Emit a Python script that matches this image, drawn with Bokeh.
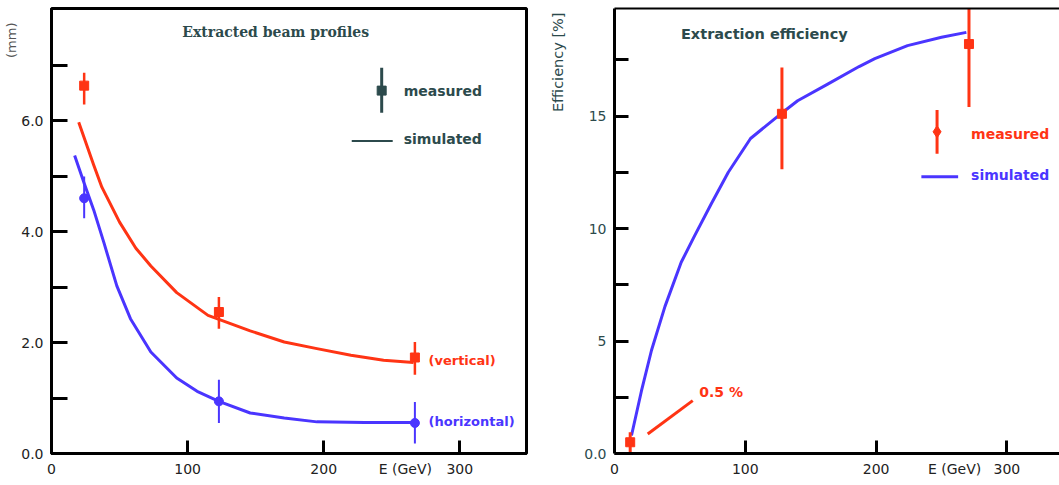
from bokeh.plotting import figure
from bokeh.layouts import row
from bokeh.models import Range1d, FixedTicker, Label, LinearAxis, PrintfTickFormatter, Title
from bokeh.embed import file_html
from bokeh.resources import INLINE

# ---------------- data: left panel (beam profiles, mm) ----------------
prof_E_meas = [24, 123, 267]
vert_meas = [6.63, 2.55, 1.73]
vert_lo = [6.29, 2.25, 1.42]
vert_hi = [6.86, 2.82, 2.01]
horiz_meas = [4.60, 0.94, 0.55]
horiz_lo = [4.24, 0.55, 0.18]
horiz_hi = [4.99, 1.33, 0.93]

vert_sim_E = [20, 31, 37, 50, 62, 73, 92, 115, 146, 171, 195, 220, 244, 266]
vert_sim = [5.97, 5.20, 4.80, 4.17, 3.70, 3.38, 2.90, 2.49, 2.21, 2.01, 1.89, 1.77, 1.68, 1.64]

horiz_sim_E = [17, 24, 31, 38.5, 48, 58, 73, 92, 107, 123, 146, 171, 195, 230, 266]
horiz_sim = [5.37, 4.87, 4.39, 3.80, 3.02, 2.43, 1.83, 1.36, 1.12, 0.94, 0.73, 0.64, 0.57, 0.56, 0.56]

prof_yticks = [0, 2, 4, 6]
prof_yminor = [1, 3, 5, 7]

# x axis: labelled positions (0, 100, 200, 300 and the axis name) and tick marks
x_label_pos = [0, 100, 200, 260, 300]
x_label_text = {260: "E (GeV)"}
x_tick_marks = [100, 200, 300]

# ---------------- data: right panel (extraction efficiency, %) ----------------
eff_E_meas = [12, 128, 271]
eff_meas = [0.5, 15.1, 18.2]
eff_lo = [-0.17, 12.64, 15.4]
eff_hi = [0.94, 17.16, 21.0]

eff_sim_E = [13, 20.6, 28.3, 38.6, 51, 61, 74, 87, 104, 125, 140, 163, 187, 199, 224, 250, 269]
eff_sim = [0.8, 2.78, 4.59, 6.54, 8.5, 9.65, 11.1, 12.5, 14.0, 15.0, 15.68, 16.42, 17.2, 17.55, 18.13, 18.5, 18.72]

eff_yticks = [0, 5, 10, 15]
eff_yminor = [2.5, 7.5, 12.5, 17.5]

RED = "#ff3414"
BLUE = "#4a35ff"
SLATE = "#2c4a4c"
FONT = "DejaVu Sans"


def style_axis(ax, label_color, tick_in):
    ax.axis_line_width = 3
    ax.axis_line_color = "black"
    ax.major_tick_line_width = 3
    ax.minor_tick_line_width = 3
    ax.major_tick_line_color = "black"
    ax.minor_tick_line_color = "black"
    ax.major_tick_out = 0
    ax.minor_tick_out = 0
    ax.major_tick_in = tick_in
    ax.minor_tick_in = tick_in
    ax.major_label_standoff = 8
    ax.major_label_text_font = FONT
    ax.major_label_text_font_size = "14px"
    ax.major_label_text_color = label_color


def style_x_axis(ax):
    style_axis(ax, "#222222", 13)
    ax.ticker = FixedTicker(ticks=x_label_pos, minor_ticks=x_tick_marks)
    ax.major_label_overrides = x_label_text
    ax.major_tick_in = 0          # labels only; the visible marks are the minor ticks
    ax.minor_tick_in = 13
    ax.major_label_standoff = 7


# ======================= left figure =======================
p1 = figure(width=530, height=485, x_range=Range1d(0, 349), y_range=Range1d(0, 8.02),
            output_backend="svg", toolbar_location=None,
            min_border_left=51, min_border_right=4, min_border_top=7, min_border_bottom=29)
p1.grid.visible = False
p1.outline_line_color = "black"
p1.outline_line_width = 3
p1.outline_line_alpha = 1.0

style_x_axis(p1.below[0])
ya1 = p1.left[0]
style_axis(ya1, "#222222", 16)
ya1.ticker = FixedTicker(ticks=prof_yticks, minor_ticks=prof_yminor)
ya1.formatter = PrintfTickFormatter(format="%.1f")
p1.add_layout(Title(text="(mm)", align="right", text_font=FONT, text_font_size="13px",
                    text_font_style="normal", text_color="#555555", standoff=0, offset=14), "left")

# simulated curves
p1.line(vert_sim_E, vert_sim, line_color=RED, line_width=3, line_join="round")
p1.line(horiz_sim_E, horiz_sim, line_color=BLUE, line_width=3, line_join="round")
# measured with error bars
p1.segment(x0=prof_E_meas, y0=vert_lo, x1=prof_E_meas, y1=vert_hi, line_color=RED, line_width=2.5)
p1.scatter(prof_E_meas, vert_meas, marker="square", size=9, color=RED)
p1.segment(x0=prof_E_meas, y0=horiz_lo, x1=prof_E_meas, y1=horiz_hi, line_color=BLUE, line_width=2)
p1.scatter(prof_E_meas, horiz_meas, marker="circle", size=9, color=BLUE)

# legend (drawn)
p1.segment(x0=[242.6], y0=[6.14], x1=[242.6], y1=[6.95], line_color=SLATE, line_width=3)
p1.scatter([242.6], [6.54], marker="square", size=9, color=SLATE)
p1.segment(x0=[220.6], y0=[5.63], x1=[250.7], y1=[5.63], line_color=SLATE, line_width=2)
for txt, yy in (("measured", 6.54), ("simulated", 5.66)):
    p1.add_layout(Label(x=258.8, y=yy, text=txt, text_font=FONT, text_font_size="14px",
                        text_font_style="bold", text_color=SLATE, text_baseline="middle"))

p1.add_layout(Label(x=277, y=1.68, text="(vertical)", text_font=FONT, text_font_size="13px",
                    text_font_style="bold", text_color=RED, text_baseline="middle"))
p1.add_layout(Label(x=277, y=0.57, text="(horizontal)", text_font=FONT, text_font_size="13px",
                    text_font_style="bold", text_color=BLUE, text_baseline="middle"))
p1.add_layout(Label(x=164.7, y=7.6, text="Extracted beam profiles", text_font="DejaVu Serif",
                    text_font_size="14px", text_font_style="bold", text_color=SLATE,
                    text_align="center", text_baseline="middle"))

# ======================= right figure =======================
p2 = figure(width=529, height=485, x_range=Range1d(0, 340.2), y_range=Range1d(0, 19.78),
            output_backend="svg", toolbar_location=None,
            min_border_left=84, min_border_right=0, min_border_top=8, min_border_bottom=32)
p2.grid.visible = False
p2.outline_line_color = None

style_x_axis(p2.below[0])
ya2 = p2.left[0]
style_axis(ya2, SLATE, 14)
ya2.ticker = FixedTicker(ticks=eff_yticks, minor_ticks=eff_yminor)
ya2.major_label_overrides = {0: "0.0"}
top_axis = LinearAxis(ticker=FixedTicker(ticks=[]), axis_line_width=2, axis_line_color="black",
                      major_tick_in=0, major_tick_out=0, minor_tick_in=0, minor_tick_out=0)
p2.add_layout(top_axis, "above")
p2.add_layout(Title(text="Efficiency [%]", align="right", text_font=FONT, text_font_size="14.5px",
                    text_font_style="normal", text_color=SLATE, standoff=32, offset=4), "left")

p2.line(eff_sim_E, eff_sim, line_color=BLUE, line_width=3, line_join="round")
p2.segment(x0=eff_E_meas, y0=eff_lo, x1=eff_E_meas, y1=eff_hi, line_color=RED, line_width=3)
p2.scatter(eff_E_meas, eff_meas, marker="square", size=9, color=RED)

# annotation "0.5 %"
p2.segment(x0=[25.4], y0=[0.87], x1=[59.8], y1=[2.35], line_color=RED, line_width=3)
p2.add_layout(Label(x=64.8, y=2.72, text="0.5 %", text_font=FONT, text_font_size="14px",
                    text_font_style="bold", text_color=RED, text_baseline="middle"))

# legend (drawn)
p2.segment(x0=[246.6], y0=[13.32], x1=[246.6], y1=[15.27], line_color=RED, line_width=3)
p2.scatter([246.6], [14.3], marker="diamond", size=12, color=RED)
p2.segment(x0=[234.6], y0=[12.3], x1=[262.7], y1=[12.3], line_color=BLUE, line_width=3)
p2.add_layout(Label(x=272.6, y=14.2, text="measured", text_font=FONT, text_font_size="14px",
                    text_font_style="bold", text_color=RED, text_baseline="middle"))
p2.add_layout(Label(x=272.6, y=12.4, text="simulated", text_font=FONT, text_font_size="14px",
                    text_font_style="bold", text_color=BLUE, text_baseline="middle"))

p2.add_layout(Label(x=50.8, y=18.66, text="Extraction efficiency", text_font=FONT,
                    text_font_size="14.5px", text_font_style="bold", text_color=SLATE,
                    text_baseline="middle"))

layout = row(p1, p2, spacing=0)
open("out.html", "w").write(file_html(layout, INLINE))
